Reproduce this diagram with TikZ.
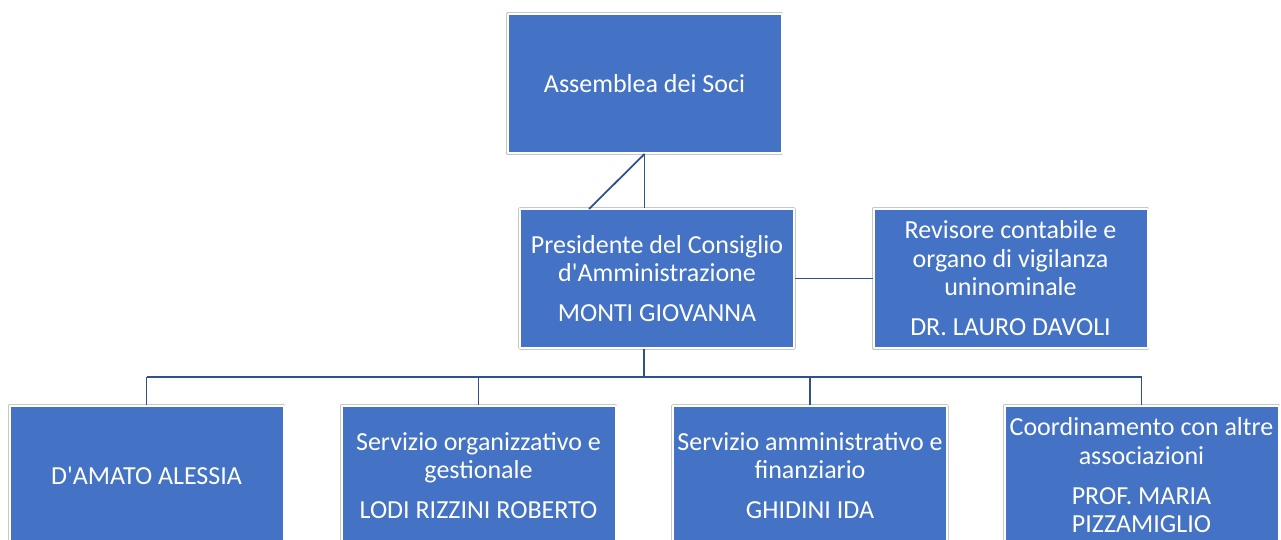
\documentclass[tikz,border=0pt]{standalone}
\usepackage{fontspec}
\setmainfont{Carlito}
\definecolor{boxblue}{RGB}{68,114,196}
\definecolor{linkblue}{RGB}{47,82,143}
\begin{document}
\begin{tikzpicture}[line cap=round,line join=round,x=1.0pt,y=-1.0pt,
  orgbox/.style={fill=boxblue,draw=white,line width=2pt,preaction={draw=black!22,line width=3.5pt},
    minimum width=274pt,minimum height=139pt,inner sep=0pt,align=center,text=white,
    font=\fontsize{26}{28.5}\selectfont},
  link/.style={color=linkblue,line width=1.8pt,line cap=butt}]
\useasboundingbox (0,0) rectangle (1281,540);
\clip (0,0) rectangle (1281,540);
\node[orgbox] (soci) at (644.5,83.5) {Assemblea dei Soci};
\node[orgbox] (pres) at (657,278.5) {Presidente del Consiglio\\d\textquotesingle Amministrazione\\[11.5pt]MONTI GIOVANNA};
\node[orgbox] (rev) at (1010.5,278.5) {Revisore contabile e\\organo di vigilanza\\uninominale\\[11.5pt]DR. LAURO DAVOLI};
\node[orgbox] (damato) at (146.5,475.5) {D\textquotesingle AMATO ALESSIA};
\node[orgbox] (orga) at (478.5,475.5) {Servizio organizzativo e\\gestionale\\[11.5pt]LODI RIZZINI ROBERTO};
\node[orgbox] (ammi) at (810,475.5) {Servizio amministrativo e\\finanziario\\[11.5pt]GHIDINI IDA};
\node[orgbox] (coord) at (1141.5,475.5) {Coordinamento con altre\\associazioni\\[11.5pt]PROF. MARIA\\PIZZAMIGLIO};
\coordinate (diag) at (589,209);
\coordinate (bus) at (644,377);
\draw[link] (soci.south) -- (soci.south |- pres.north);
\draw[link] (soci.south) -- (diag);
\draw[link] (pres.east) -- (rev.west);
\draw[link] (bus |- pres.south) -- (bus);
\draw[link] (bus -| damato.north) -- (bus -| coord.north);
\foreach \b in {damato,orga,ammi,coord}
\draw[link] (\b.north |- bus) -- (\b.north);
\end{tikzpicture}
\end{document}
